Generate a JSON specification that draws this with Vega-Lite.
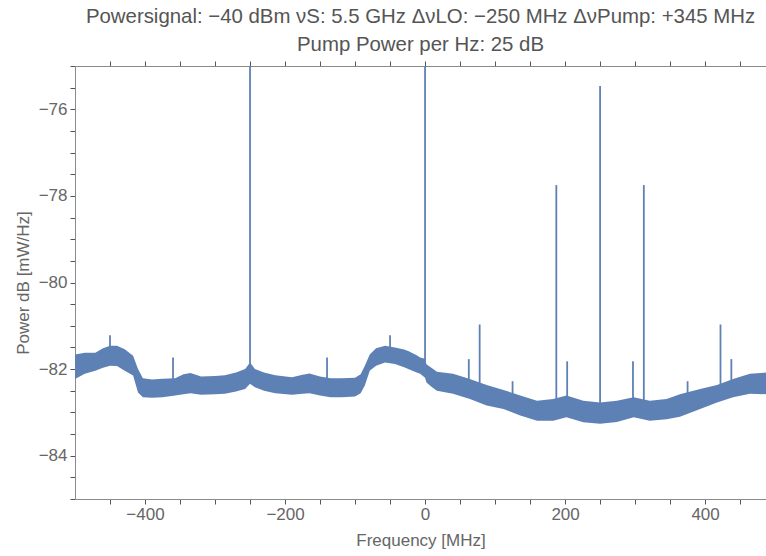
{
  "$schema": "https://vega.github.io/schema/vega-lite/v6.json",
  "autosize": "none",
  "width": 691,
  "height": 433,
  "padding": {"left": 75, "top": 66, "right": 0, "bottom": 57},
  "background": "white",
  "config": {
    "view": {"stroke": null},
    "font": "Liberation Sans",
    "axis": {
      "grid": false,
      "ticks": true,
      "domainColor": "#8a8a8a",
      "domainWidth": 1,
      "tickColor": "#555555",
      "tickWidth": 1,
      "tickSize": 5,
      "labelColor": "#666666",
      "labelFont": "Liberation Sans",
      "labelFontSize": 17,
      "titleColor": "#666666",
      "titleFont": "Liberation Sans",
      "titleFontSize": 17,
      "titleFontWeight": "normal"
    }
  },
  "title": {
    "text": [
      "Powersignal: −40 dBm νS: 5.5 GHz ΔνLO: −250 MHz ΔνPump: +345 MHz",
      "Pump Power per Hz: 25 dB"
    ],
    "fontSize": 20.4,
    "lineHeight": 28,
    "fontWeight": "normal",
    "color": "#555555",
    "font": "Liberation Sans",
    "anchor": "middle",
    "offset": 5
  },
  "datasets": {
    "band": [
      {"freq": -500, "upper": -81.66, "lower": -82.23},
      {"freq": -486, "upper": -81.62, "lower": -82.11},
      {"freq": -471, "upper": -81.62, "lower": -82.04},
      {"freq": -460, "upper": -81.52, "lower": -81.97},
      {"freq": -450, "upper": -81.46, "lower": -81.92},
      {"freq": -440, "upper": -81.46, "lower": -81.93},
      {"freq": -429, "upper": -81.54, "lower": -82.04},
      {"freq": -417, "upper": -81.69, "lower": -82.15},
      {"freq": -410, "upper": -82.0, "lower": -82.54},
      {"freq": -403, "upper": -82.21, "lower": -82.65},
      {"freq": -390, "upper": -82.24, "lower": -82.66},
      {"freq": -375, "upper": -82.22, "lower": -82.65},
      {"freq": -357, "upper": -82.21, "lower": -82.61},
      {"freq": -345, "upper": -82.12, "lower": -82.58},
      {"freq": -335, "upper": -82.09, "lower": -82.56},
      {"freq": -320, "upper": -82.17, "lower": -82.59},
      {"freq": -300, "upper": -82.16, "lower": -82.58},
      {"freq": -286, "upper": -82.14, "lower": -82.57},
      {"freq": -270, "upper": -82.08, "lower": -82.52},
      {"freq": -257, "upper": -82.0, "lower": -82.46},
      {"freq": -250, "upper": -81.85, "lower": -82.34},
      {"freq": -243, "upper": -82.0, "lower": -82.42},
      {"freq": -230, "upper": -82.08, "lower": -82.5},
      {"freq": -214, "upper": -82.14, "lower": -82.56},
      {"freq": -190, "upper": -82.19, "lower": -82.59},
      {"freq": -175, "upper": -82.13, "lower": -82.57},
      {"freq": -165, "upper": -82.1, "lower": -82.56},
      {"freq": -150, "upper": -82.17, "lower": -82.61},
      {"freq": -135, "upper": -82.21, "lower": -82.65},
      {"freq": -119, "upper": -82.21, "lower": -82.65},
      {"freq": -100, "upper": -82.2, "lower": -82.63},
      {"freq": -92, "upper": -82.12, "lower": -82.56},
      {"freq": -86, "upper": -81.92, "lower": -82.38},
      {"freq": -79, "upper": -81.66, "lower": -82.04},
      {"freq": -70, "upper": -81.52, "lower": -81.92},
      {"freq": -57, "upper": -81.46, "lower": -81.85},
      {"freq": -43, "upper": -81.5, "lower": -81.88},
      {"freq": -30, "upper": -81.55, "lower": -81.96},
      {"freq": -24, "upper": -81.58, "lower": -82.0},
      {"freq": -12, "upper": -81.68, "lower": -82.08},
      {"freq": -7, "upper": -81.73, "lower": -82.11},
      {"freq": 0, "upper": -81.76, "lower": -82.2},
      {"freq": 2, "upper": -81.89, "lower": -82.31},
      {"freq": 10, "upper": -81.98, "lower": -82.42},
      {"freq": 17, "upper": -82.06, "lower": -82.5},
      {"freq": 40, "upper": -82.11, "lower": -82.57},
      {"freq": 64, "upper": -82.23, "lower": -82.69},
      {"freq": 88, "upper": -82.37, "lower": -82.84},
      {"freq": 112, "upper": -82.48, "lower": -82.92},
      {"freq": 136, "upper": -82.61, "lower": -83.07},
      {"freq": 160, "upper": -82.73, "lower": -83.19},
      {"freq": 183, "upper": -82.69, "lower": -83.19},
      {"freq": 202, "upper": -82.61, "lower": -83.11},
      {"freq": 226, "upper": -82.73, "lower": -83.23},
      {"freq": 250, "upper": -82.77, "lower": -83.26},
      {"freq": 274, "upper": -82.73, "lower": -83.22},
      {"freq": 298, "upper": -82.65, "lower": -83.11},
      {"freq": 321, "upper": -82.73, "lower": -83.19},
      {"freq": 345, "upper": -82.69, "lower": -83.16},
      {"freq": 364, "upper": -82.58, "lower": -83.1},
      {"freq": 393, "upper": -82.46, "lower": -82.92},
      {"freq": 417, "upper": -82.37, "lower": -82.77},
      {"freq": 440, "upper": -82.23, "lower": -82.65},
      {"freq": 464, "upper": -82.11, "lower": -82.57},
      {"freq": 487, "upper": -82.08, "lower": -82.58}
    ],
    "spikes": [
      {"freq": -450, "base": -81.6, "peak": -81.22},
      {"freq": -360, "base": -82.3, "peak": -81.73},
      {"freq": -250, "base": -81.9, "peak": -70},
      {"freq": -140, "base": -82.3, "peak": -81.73},
      {"freq": -50, "base": -81.6, "peak": -81.22},
      {"freq": 0, "base": -81.9, "peak": -70},
      {"freq": 62.5, "base": -82.35, "peak": -81.77},
      {"freq": 78, "base": -82.4, "peak": -80.97},
      {"freq": 125, "base": -82.65, "peak": -82.28},
      {"freq": 187.5, "base": -82.8, "peak": -77.75},
      {"freq": 203, "base": -82.75, "peak": -81.82},
      {"freq": 250, "base": -82.9, "peak": -75.46},
      {"freq": 297, "base": -82.75, "peak": -81.82},
      {"freq": 312.5, "base": -82.8, "peak": -77.75},
      {"freq": 375, "base": -82.65, "peak": -82.28},
      {"freq": 422, "base": -82.45, "peak": -80.97},
      {"freq": 437.5, "base": -82.35, "peak": -81.77}
    ]
  },
  "layer": [
    {
      "data": {"name": "band"},
      "mark": {"type": "area", "color": "#5E81B5", "opacity": 1, "clip": true},
      "encoding": {
        "x": {
          "field": "freq",
          "type": "quantitative",
          "scale": {"domain": [-500, 487], "nice": false, "zero": false},
          "axis": {
            "orient": "bottom",
            "title": "Frequency [MHz]",
            "values": [-450, -400, -350, -300, -250, -200, -150, -100, -50, 0, 50, 100, 150, 200, 250, 300, 350, 400, 450],
            "format": "~f",
            "labelExpr": "datum.value % 200 === 0 ? datum.label : ''",
            "labelPadding": 2,
            "titlePadding": 10,
            "encode": {"ticks": {"update": {"y2": {"signal": "datum.value % 200 === 0 ? -5 : -3"}}}}
          }
        },
        "y": {
          "field": "upper",
          "type": "quantitative",
          "scale": {"domain": [-85, -75], "nice": false, "zero": false},
          "axis": {
            "orient": "left",
            "title": "Power dB [mW/Hz]",
            "values": [-85, -84.5, -84, -83.5, -83, -82.5, -82, -81.5, -81, -80.5, -80, -79.5, -79, -78.5, -78, -77.5, -77, -76.5, -76, -75.5, -75],
            "format": "~f",
            "labelExpr": "datum.value % 2 === 0 ? datum.label : ''",
            "labelPadding": 3,
            "titlePadding": 6,
            "encode": {"ticks": {"update": {"x2": {"signal": "datum.value % 2 === 0 ? 5 : 3"}}}}
          }
        },
        "y2": {"field": "lower"}
      }
    },
    {
      "data": {"name": "spikes"},
      "mark": {"type": "rule", "color": "#5E81B5", "strokeWidth": 1.8, "clip": true},
      "encoding": {
        "x": {
          "field": "freq",
          "type": "quantitative",
          "axis": {
            "orient": "top",
            "title": null,
            "labels": false,
            "values": [-450, -400, -350, -300, -250, -200, -150, -100, -50, 0, 50, 100, 150, 200, 250, 300, 350, 400, 450],
            "encode": {"ticks": {"update": {"y2": {"signal": "datum.value % 200 === 0 ? 5 : 3"}}}}
          }
        },
        "y": {"field": "peak", "type": "quantitative", "axis": null},
        "y2": {"field": "base"}
      }
    }
  ],
  "resolve": {"axis": {"x": "independent", "y": "independent"}}
}
